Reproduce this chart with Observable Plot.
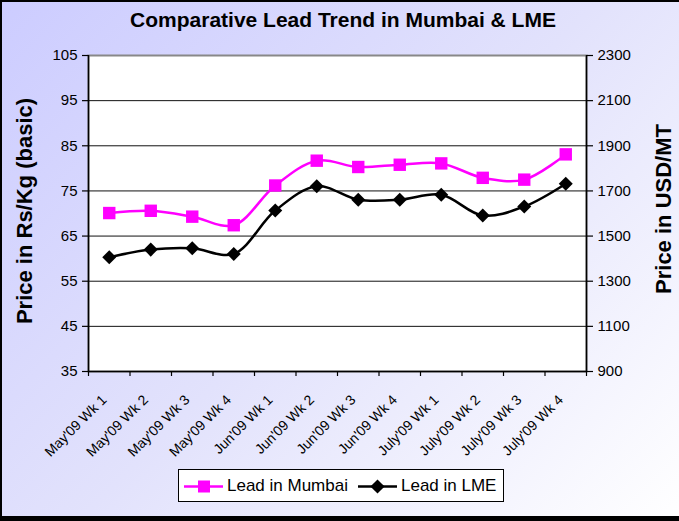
<!DOCTYPE html>
<html>
<head>
<meta charset="utf-8">
<script src="https://cdn.jsdelivr.net/npm/d3@7"></script>
<script src="https://cdn.jsdelivr.net/npm/@observablehq/plot@0.6"></script>
<style>
  html, body { margin: 0; padding: 0; background: #fff; }
  #chart {
    position: relative; width: 679px; height: 521px; overflow: hidden;
    background: linear-gradient(135deg, #ccccff 0%, #e2e2fc 50%, #ffffff 100%);
    font-family: "Liberation Sans", Arial, sans-serif;
  }
  #frameBorder {
    position: absolute; left: 0; top: 0; width: 679px; height: 521px; pointer-events: none;
    box-shadow: inset 2px 2px 0 #000, inset 0 -5px 0 #000;
  }
  #title {
    position: absolute; top: 8px; left: 0; width: 686px; text-align: center;
    font-size: 21px; font-weight: bold; color: #000; white-space: nowrap;
  }
  .ytitle {
    position: absolute; font-size: 22px; font-weight: bold; color: #000; white-space: nowrap;
    transform: translate(-50%, -50%) rotate(-90deg);
  }
  #plot { position: absolute; left: 0; top: 0; }
  #legend {
    position: absolute; left: 178px; top: 469px; width: 326px; height: 33px; box-sizing: border-box;
    background: #fff; border: 1px solid #000; font-size: 17px; color: #000;
  }
  #legend svg { position: absolute; left: 0; top: 0; }
  #legend span { position: absolute; top: 6px; white-space: nowrap; }
</style>
</head>
<body>
<div id="chart">
  <div id="title">Comparative Lead Trend in Mumbai &amp; LME</div>
  <div id="plot"></div>
  <div class="ytitle" style="left:25px; top:211px;">Price in Rs/Kg (basic)</div>
  <div class="ytitle" style="left:664px; top:209px;">Price in USD/MT</div>
  <div id="legend"></div>
  <div id="frameBorder"></div>
</div>
<script>
const categories = ["May'09 Wk 1", "May'09 Wk 2", "May'09 Wk 3", "May'09 Wk 4",
                    "Jun'09 Wk 1", "Jun'09 Wk 2", "Jun'09 Wk 3", "Jun'09 Wk 4",
                    "July'09 Wk 1", "July'09 Wk 2", "July'09 Wk 3", "July'09 Wk 4"];
const mumbai = [70.1, 70.6, 69.3, 67.4, 76.2, 81.7, 80.3, 80.8, 81.1, 77.9, 77.5, 83.1]; // Rs/Kg
const lme = [1406, 1440, 1446, 1421, 1613, 1721, 1661, 1661, 1683, 1591, 1631, 1732];    // USD/MT
const leftTicks = [35, 45, 55, 65, 75, 85, 95, 105];
const rightTicks = [900, 1100, 1300, 1500, 1700, 1900, 2100, 2300];
const seriesNames = ["Lead in Mumbai", "Lead in LME"];

// secondary axis mapping: USD 900..2300 onto Rs 35..105
const toLeft = v => leftTicks[0] + (v - rightTicks[0]) * (leftTicks[leftTicks.length - 1] - leftTicks[0]) / (rightTicks[rightTicks.length - 1] - rightTicks[0]);
const toRight = v => rightTicks[0] + (v - leftTicks[0]) * (rightTicks[rightTicks.length - 1] - rightTicks[0]) / (leftTicks[leftTicks.length - 1] - leftTicks[0]);

const data = categories.map((c, i) => ({i, cat: c, mumbai: mumbai[i], lme: toLeft(lme[i])}));
const xDomain = [-0.5, categories.length - 0.5];
const boundaries = d3.range(categories.length + 1).map(k => k - 0.5);

const plot = Plot.plot({
  width: 679, height: 470,
  marginTop: 55, marginBottom: 99, marginLeft: 88, marginRight: 93,
  style: {background: "transparent", fontFamily: "'Liberation Sans', Arial, sans-serif", color: "#000"},
  x: {domain: xDomain},
  y: {domain: [leftTicks[0], leftTicks[leftTicks.length - 1]]},
  marks: [
    Plot.frame({fill: "#fff", stroke: "#888", strokeWidth: 2}),
    Plot.gridY(leftTicks.slice(1, -1), {stroke: "#111", strokeOpacity: 1, strokeWidth: 1}),
    Plot.ruleX([xDomain[0]], {stroke: "#000", strokeWidth: 1.5}),
    Plot.ruleX([xDomain[1]], {stroke: "#000", strokeWidth: 1.5}),
    Plot.ruleY([leftTicks[0]], {stroke: "#000", strokeWidth: 1.5}),
    Plot.axisY(leftTicks, {anchor: "left", tickSize: 6, tickPadding: 5, fontSize: 15, label: null, strokeWidth: 1.2}),
    Plot.axisY(leftTicks, {anchor: "right", tickSize: 6, tickPadding: 5, fontSize: 15, label: null, strokeWidth: 1.2,
      tickFormat: d => String(toRight(d))}),
    Plot.axisX(boundaries, {anchor: "bottom", tickSize: 5, tickFormat: () => "", label: null, strokeWidth: 1.2}),
    Plot.axisX(d3.range(categories.length), {anchor: "bottom", tickSize: 0, tickPadding: 10, tickRotate: -45,
      fontSize: 14, dx: -5, dy: 16, label: null, tickFormat: i => categories[i]}),
    Plot.line(data, {x: "i", y: "mumbai", stroke: "#ff00ff", strokeWidth: 2.5, curve: "catmull-rom"}),
    Plot.line(data, {x: "i", y: "lme", stroke: "#000", strokeWidth: 2.5, curve: "catmull-rom"}),
    Plot.dot(data, {x: "i", y: "mumbai", symbol: "square", r: 7, fill: "#ff00ff", stroke: "none"}),
    Plot.dot(data, {x: "i", y: "lme", symbol: "square", r: 5.6, rotate: 45, fill: "#000", stroke: "none"})
  ]
});
document.getElementById("plot").appendChild(plot);

// legend
const legend = document.getElementById("legend");
legend.innerHTML = `
<svg width="326" height="33">
  <line x1="5" x2="44" y1="16.5" y2="16.5" stroke="#ff00ff" stroke-width="2.5"/>
  <rect x="19" y="10.5" width="12" height="12" fill="#ff00ff"/>
  <line x1="179" x2="218" y1="16.5" y2="16.5" stroke="#000" stroke-width="2.5"/>
  <rect x="193.5" y="11.5" width="10" height="10" fill="#000" transform="rotate(45 198.5 16.5)"/>
</svg>
<span style="left:48px">${seriesNames[0]}</span>
<span style="left:222px">${seriesNames[1]}</span>`;
</script>
</body>
</html>
